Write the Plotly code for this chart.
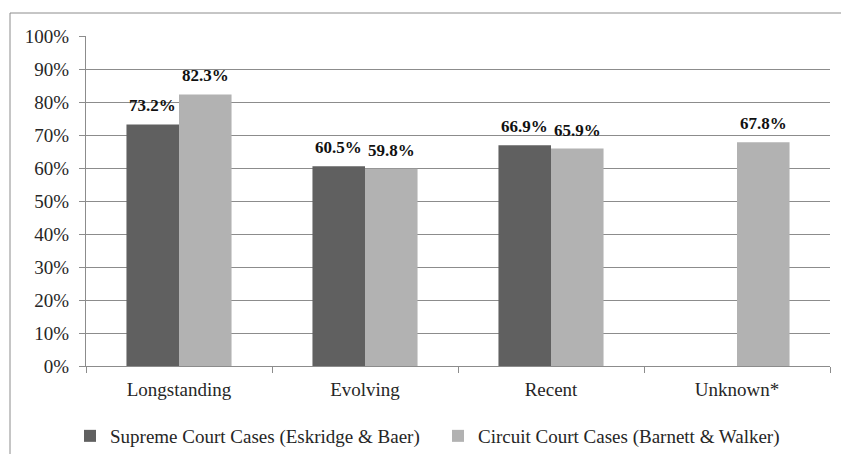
import plotly.graph_objects as go

categories = ["Longstanding", "Evolving", "Recent", "Unknown*"]
supreme = [73.2, 60.5, 66.9, None]
circuit = [82.3, 59.8, 65.9, 67.8]
series_names = ["Supreme Court Cases (Eskridge & Baer)", "Circuit Court Cases (Barnett & Walker)"]
tick_vals = [0, 10, 20, 30, 40, 50, 60, 70, 80, 90, 100]
tick_text = [f"{v}%" for v in tick_vals]

FONT = "Liberation Serif"
W, H = 841, 454
L, R, T, B = 86, 11, 36, 88
BARGAP = 0.435

fig = go.Figure()
series = [(supreme, series_names[0], "#606060"), (circuit, series_names[1], "#b2b2b2")]
for vals, name, col in series:
    fig.add_trace(go.Bar(x=categories, y=vals, name=name, marker_color=col,
                         marker_line_width=0, hoverinfo="x+y"))

pw, ph = W - L - R, H - T - B
# data labels above each bar
cat_px = pw / len(categories)
bar_px = cat_px * (1 - BARGAP) / len(series)
for si, (vals, name, col) in enumerate(series):
    off = (si - (len(series) - 1) / 2) * bar_px
    for c, v in zip(categories, vals):
        if v is None:
            continue
        fig.add_annotation(x=c, y=v, xref="x", yref="y", text=f"<b>{v:.1f}%</b>", showarrow=False,
                           xshift=off, yshift=7, yanchor="bottom",
                           font=dict(family=FONT, size=17, color="#111"))

x0 = (10 - L) / pw
x1 = (W + 5 - L) / pw
y_top = 1 + (T - 13) / ph
y_bot = -(B + 5) / ph
shapes = [
    dict(type="line", xref="paper", yref="paper", x0=x0, x1=x1, y0=y_top, y1=y_top,
         line=dict(color="#8c8c8c", width=1)),
    dict(type="line", xref="paper", yref="paper", x0=x0, x1=x0, y0=y_bot, y1=y_top,
         line=dict(color="#8c8c8c", width=1)),
]

fig.update_layout(
    width=W, height=H,
    margin=dict(l=L, r=R, t=T, b=B, autoexpand=False),
    paper_bgcolor="white", plot_bgcolor="white",
    barmode="group", bargap=BARGAP, bargroupgap=0,
    font=dict(family=FONT, size=19, color="#262626"),
    showlegend=True,
    legend=dict(orientation="h", x=(70 - L) / pw, xanchor="left", y=-(436 - (H - B)) / ph, yanchor="middle",
                font=dict(family=FONT, size=19, color="#262626"), itemwidth=30, traceorder="normal",
                entrywidth=323, entrywidthmode="pixels"),
    shapes=shapes,
    xaxis=dict(type="category", showline=True, linecolor="#8c8c8c", linewidth=1, automargin=False,
               ticks="outside", tickson="boundaries", ticklen=6, tickcolor="#8c8c8c", ticklabelstandoff=6,
               tickfont=dict(family=FONT, size=19, color="#262626"), showgrid=False, zeroline=False),
    yaxis=dict(range=[0, 100], tickvals=tick_vals, ticktext=tick_text, showline=True, automargin=False,
               linecolor="#8c8c8c", linewidth=1, ticks="outside", ticklen=6, tickcolor="#8c8c8c",
               ticklabelstandoff=6,
               showgrid=True, gridcolor="#8c8c8c", gridwidth=1, zeroline=False,
               tickfont=dict(family=FONT, size=19, color="#262626")),
)

fig.write_html("out.html", config={"displayModeBar": False},
               post_script="document.body.style.margin='0';")
